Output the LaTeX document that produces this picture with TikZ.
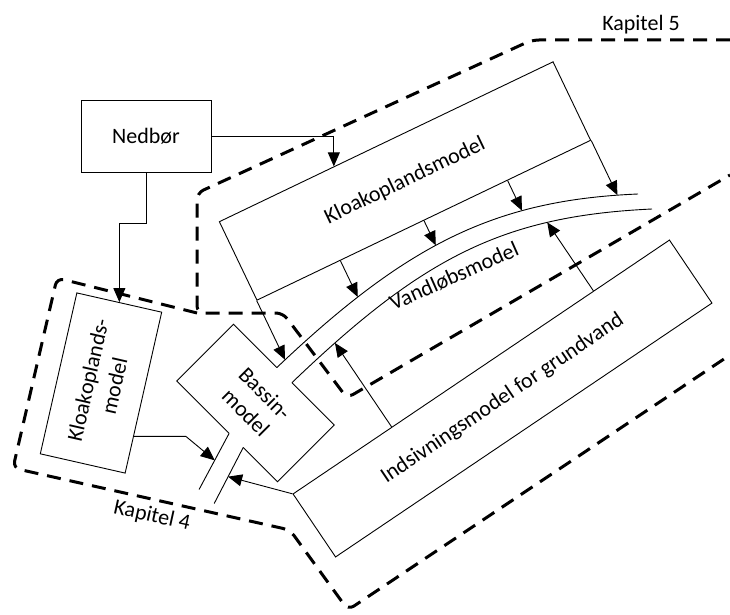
\documentclass[tikz,border=0pt]{standalone}
\usepackage{fontspec}
\setmainfont{Carlito}
\usetikzlibrary{calc,arrows.meta,intersections}

\begin{document}
\begin{tikzpicture}[x=1pt,y=-1pt,
  txt/.style={font=\fontsize{22}{27}\selectfont},
  box/.style={txt, draw, line width=0.9pt, inner sep=0pt, align=center},
  lbl/.style={txt, inner sep=0pt, align=center},
  wall/.style={line width=0.9pt},
  flow/.style={line width=0.9pt, -{Triangle[length=14pt,width=12pt]}},
  chapter/.style={line width=3pt, dash pattern=on 14pt off 9pt, rounded corners=7pt},
]
\useasboundingbox (0,0) rectangle (730,615);

% chapter boundaries
\draw[chapter] (730,40) -- (532,40) -- (197,193) -- (197,313) -- (283,313) -- (347,398) -- (730,175);
\draw[chapter] (197,313) -- (57,278) -- (13,468) -- (290,530) -- (348,610) -- (730,355);
\node[lbl] (k5lab) at (641,25) {Kapitel 5};
\node[lbl, rotate=-12.5] (k4lab) at (152,516) {Kapitel 4};

% model blocks
\node[box, minimum width=130pt, minimum height=72pt] (ned) at (146,136) {Nedbør};
\node[box, rotate=25.6, minimum width=370pt, minimum height=87pt] (k5) at (405,181) {Kloakoplandsmodel};
\node[box, rotate=77.2, minimum width=165pt, minimum height=87pt] (k4) at (101,383) {Kloakoplands-\\model};
\node[lbl, rotate=-45, minimum width=142pt, minimum height=80pt] (bas) at (255.5,403) {Bassin-\\model};
\node[box, rotate=34, minimum width=454pt, minimum height=76pt] (ind) at (502.5,398.5) {Indsivningsmodel for grundvand};

% basin outline with inlet and outlet openings
\coordinate (in1) at ($(bas.north west)!0.43!(bas.north east)$);
\coordinate (in2) at ($(bas.north west)!0.58!(bas.north east)$);
\coordinate (out1) at ($(bas.south west)!0.52!(bas.south east)$);
\coordinate (out2) at ($(bas.south west)!0.66!(bas.south east)$);
\draw[wall] (in1) -- (bas.north west) -- (bas.south west) -- (out1);
\draw[wall] (out2) -- (bas.south east) -- (bas.north east) -- (in2);
\draw[wall] (out1) -- ++(-30,56) coordinate (out1e);
\draw[wall] (out2) -- ++(-29,56) coordinate (out2e);

% stream banks
\draw[wall, name path=rivtop] (in1) .. controls (407,244) and (495,200) .. (638,194);
\draw[wall, name path=rivlow] (in2) .. controls (422,258) and (502,216) .. (652,209);
\node[lbl, rotate=24] (vand) at (454,276) {Vandløbsmodel};

% precipitation
\coordinate (kn) at ($(k5.north west)!0.344!(k5.north east)$);
\draw[flow] (ned.east) -| (kn);
\draw[flow] (ned.south) -- ++(0,51) -| (k4.east);

% sewer catchment to stream
\foreach \f/\n in {0/a,0.25/b,0.5/c,0.75/d,1/e}{
  \coordinate (ks\n) at ($(k5.south west)!\f!(k5.south east)$);
  \path[name path=ray] (ks\n) -- ++(-64.4:130pt);
  \path[name intersections={of=ray and rivtop, by={kt\n}}];
  \draw[flow] (ks\n) -- (kt\n);
}

% groundwater infiltration to stream
\foreach \f/\n in {0.263/a,0.798/b}{
  \coordinate (is\n) at ($(ind.north west)!\f!(ind.north east)$);
  \path[name path=ray] (is\n) -- ++(124:150pt);
  \path[name intersections={of=ray and rivlow, by={it\n}}];
  \draw[flow] (is\n) -- (it\n);
}

% flows into the outlet
\coordinate (ot1) at ($(out1)!0.48!(out1e)$);
\coordinate (ot2) at ($(out2)!0.52!(out2e)$);
\coordinate (k4s) at ($(k4.south east)!0.77!(k4.south west)$);
\draw[flow] (k4s) -- ++(52,0) -- (ot1);
\draw[flow] (ind.north west) -- (ot2);
\end{tikzpicture}
\end{document}
